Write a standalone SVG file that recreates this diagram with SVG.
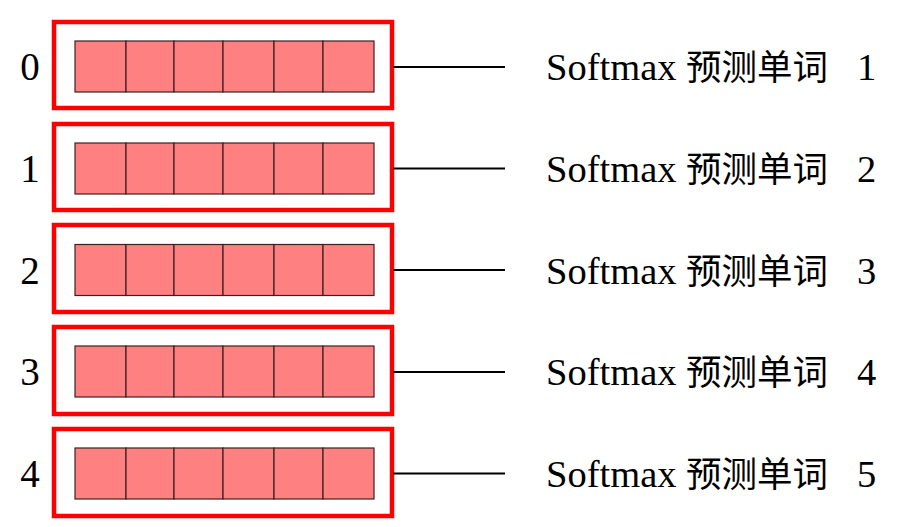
<svg xmlns="http://www.w3.org/2000/svg" width="914" height="527" viewBox="0 0 914 527">
<style>
.outer{fill:#fff;stroke:#ff0000;stroke-width:4.5}
.cell{fill:#ff8080;stroke:#3a2020;stroke-width:1.2}
.idx{font-family:"Liberation Serif","Noto Sans CJK SC",serif;font-size:39px;fill:#000;text-anchor:middle}
.lbl{font-family:"Liberation Serif","Noto Sans CJK SC",serif;font-size:38.5px;fill:#000}
.cjk{font-family:"Noto Sans CJK SC",sans-serif;font-size:35.5px}
.conn{stroke:#000;stroke-width:2}
</style>
<defs>
<g id="cells">
<rect class="cell" x="75" y="0" width="51" height="51"/>
<rect class="cell" x="126" y="0" width="48" height="51"/>
<rect class="cell" x="174" y="0" width="49" height="51"/>
<rect class="cell" x="223" y="0" width="51" height="51"/>
<rect class="cell" x="274" y="0" width="49" height="51"/>
<rect class="cell" x="323" y="0" width="51" height="51"/>
</g>
</defs>
<g id="node0">
<rect class="outer" x="54" y="22" width="338" height="86"/>
<use href="#cells" y="41"/>
<text class="idx" x="30" y="80">0</text>
<text class="lbl" x="546" y="80">Softmax <tspan class="cjk" x="686">预测单词</tspan> <tspan x="857">1</tspan></text>
</g>
<g id="node1">
<rect class="outer" x="54" y="124" width="338" height="86"/>
<use href="#cells" y="143"/>
<text class="idx" x="30" y="182">1</text>
<text class="lbl" x="546" y="182">Softmax <tspan class="cjk" x="686">预测单词</tspan> <tspan x="857">2</tspan></text>
</g>
<g id="node2">
<rect class="outer" x="54" y="225" width="338" height="87"/>
<use href="#cells" y="244.5"/>
<text class="idx" x="30" y="283.5">2</text>
<text class="lbl" x="546" y="283.5">Softmax <tspan class="cjk" x="686">预测单词</tspan> <tspan x="857">3</tspan></text>
</g>
<g id="node3">
<rect class="outer" x="54" y="327" width="338" height="87"/>
<use href="#cells" y="346"/>
<text class="idx" x="30" y="385">3</text>
<text class="lbl" x="546" y="385">Softmax <tspan class="cjk" x="686">预测单词</tspan> <tspan x="857">4</tspan></text>
</g>
<g id="node4">
<rect class="outer" x="54" y="429" width="338" height="87"/>
<use href="#cells" y="448"/>
<text class="idx" x="30" y="487">4</text>
<text class="lbl" x="546" y="487">Softmax <tspan class="cjk" x="686">预测单词</tspan> <tspan x="857">5</tspan></text>
</g>
<g id="connectors">
<line class="conn" x1="393" y1="67" x2="505" y2="67"/>
<line class="conn" x1="393" y1="168.5" x2="505" y2="168.5"/>
<line class="conn" x1="393" y1="270" x2="505" y2="270"/>
<line class="conn" x1="393" y1="372" x2="505" y2="372"/>
<line class="conn" x1="393" y1="473.5" x2="505" y2="473.5"/>
</g>
</svg>
